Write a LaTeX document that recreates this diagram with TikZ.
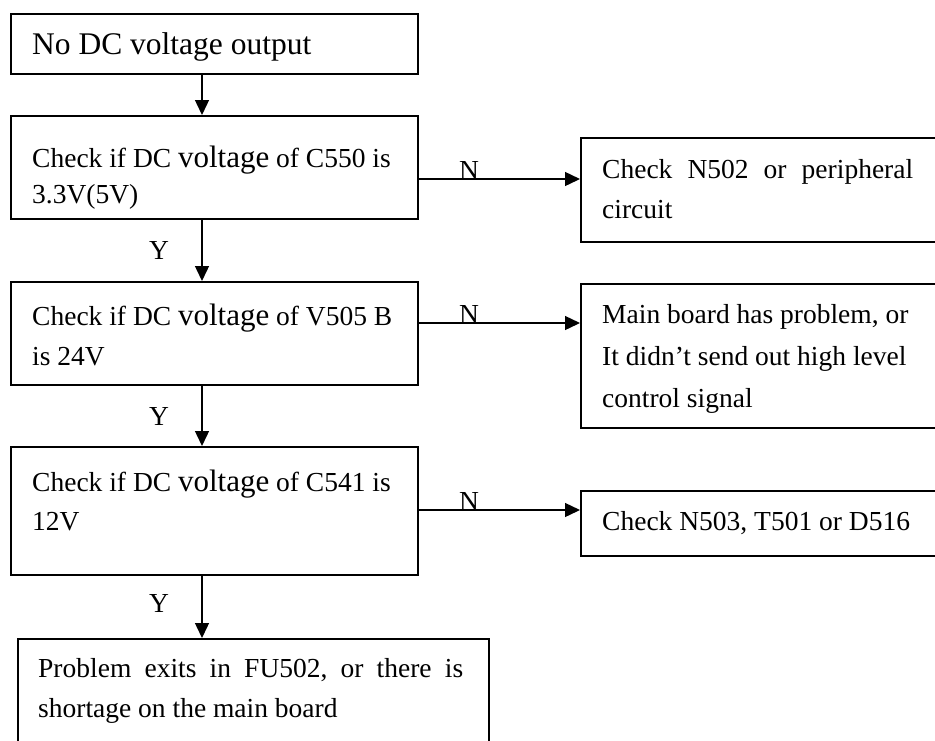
\documentclass[tikz,border=0pt]{standalone}
\usepackage{fontspec}
\setmainfont{Liberation Serif}
\usetikzlibrary{arrows.meta,calc}
\newcommand{\fnorm}{\fontsize{27.5}{40}\selectfont}
\newcommand{\fbig}{\fontsize{31.5}{40}\selectfont}
\newcommand{\vlt}[1]{{\fontsize{31}{40}\selectfont #1}}
\tikzset{
  boxstyle/.style={draw=black, line width=1.8pt, inner sep=0pt, anchor=north west},
  txt/.style={inner sep=0pt, anchor=base west, font=\fnorm},
  lbl/.style={inner sep=0pt, anchor=base, font=\fnorm},
  arr/.style={line width=1.4pt, -{Triangle[length=15pt,width=14pt]}}
}
\begin{document}
\begin{tikzpicture}[x=1pt,y=-1pt]
\useasboundingbox (0,0) rectangle (935,740);
\clip (0,0) rectangle (935,740);
% left column boxes
\node[boxstyle, minimum width=407pt, minimum height=60pt] (b1) at (10,13) {};
\node[boxstyle, minimum width=407pt, minimum height=103pt] (b2) at (10,115) {};
\node[boxstyle, minimum width=407pt, minimum height=103pt] (b3) at (10,281) {};
\node[boxstyle, minimum width=407pt, minimum height=128pt] (b4) at (10,446) {};
\node[boxstyle, minimum width=471pt, minimum height=130pt] (b5) at (17,638) {};
% right column boxes
\node[boxstyle, minimum width=380pt, minimum height=104pt] (r1) at (580,137) {};
\node[boxstyle, minimum width=380pt, minimum height=144pt] (r2) at (580,283) {};
\node[boxstyle, minimum width=380pt, minimum height=65pt] (r3) at (580,490) {};
% texts
\node[txt, font=\fbig] (t1) at (32,54) {No DC voltage output};
\node[txt] (t2a) at (32,167) {Check if DC \vlt{voltage} of C550 is};
\node[txt] (t2b) at (32,203) {3.3V(5V)};
\node[txt] (t3a) at (32,325) {Check if DC \vlt{voltage} of V505 B};
\node[txt] (t3b) at (32,365) {is 24V};
\node[txt] (t4a) at (32,491) {Check if DC \vlt{voltage} of C541 is};
\node[txt] (t4b) at (32,530) {12V};
\node[txt] (t5a) at (38,677) {\hbox to 425pt{Problem\hfil exits\hfil in\hfil FU502,\hfil or\hfil there\hfil is}};
\node[txt] (t5b) at (38,717) {shortage on the main board};
\node[txt] (r1a) at (602,178) {\hbox to 311pt{Check\hfil N502\hfil or\hfil peripheral}};
\node[txt] (r1b) at (602,218) {circuit};
\node[txt] (r2a) at (602,323) {Main board has problem, or};
\node[txt] (r2b) at (602,365) {It didn’t send out high level};
\node[txt] (r2c) at (602,407) {control signal};
\node[txt] (r3a) at (602,530) {Check N503, T501 or D516};
% vertical connectors
\draw[arr] (b1.south -| 202,0) -- (b2.north -| 202,0);
\draw[arr] (b2.south -| 202,0) -- (b3.north -| 202,0);
\draw[arr] (b3.south -| 202,0) -- (b4.north -| 202,0);
\draw[arr] (b4.south -| 202,0) -- (b5.north -| 202,0);
% horizontal connectors
\coordinate (n1) at (0,179);
\coordinate (n2) at (0,323);
\coordinate (n3) at (0,510);
\draw[arr] (b2.east |- n1) -- (r1.west |- n1);
\draw[arr] (b3.east |- n2) -- (r2.west |- n2);
\draw[arr] (b4.east |- n3) -- (r3.west |- n3);
% labels
\node[lbl] (y1) at (159,259) {Y};
\node[lbl] (y2) at (159,425) {Y};
\node[lbl] (y3) at (159,612) {Y};
\node[lbl] (nl1) at (469,179) {N};
\node[lbl] (nl2) at (469,323) {N};
\node[lbl] (nl3) at (469,510) {N};
\end{tikzpicture}
\end{document}
